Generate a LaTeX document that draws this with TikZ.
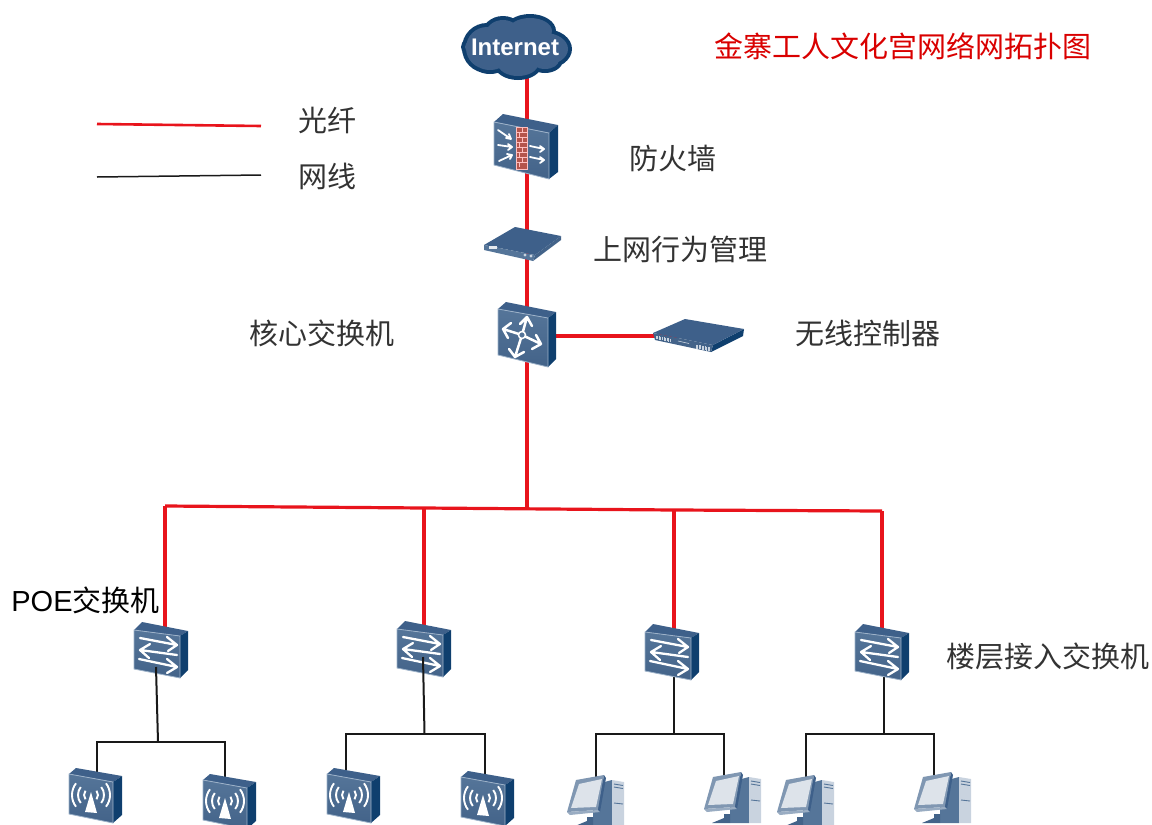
\documentclass[tikz,border=0pt]{standalone}
\usepackage{fontspec}
\setmainfont{Liberation Sans}
\newfontfamily\cjk{Noto Sans CJK SC}
\definecolor{dfront}{HTML}{557599}
\definecolor{dfrontb}{HTML}{436389}
\definecolor{dtop}{HTML}{3E608A}
\definecolor{dside}{HTML}{0F3F6E}
\definecolor{dedge}{HTML}{9DB2C9}
\definecolor{pclight}{HTML}{C9D3DF}
\definecolor{pcscreen}{HTML}{DDE3EA}
\definecolor{wallc}{HTML}{B5554C}
\definecolor{fibre}{HTML}{E8141C}
\tikzset{
  dev/.style={inner sep=0pt,outer sep=0pt,draw=none},
  lab/.style={font=\cjk\fontsize{29}{29}\selectfont,text=black!80,inner sep=0pt},
  fiber/.style={draw=fibre,line width=3.2pt},
  utp/.style={draw=black!90,line width=2pt},
  wa/.style={draw=white,line width=2.3pt,line cap=round,line join=round},
  front/.style={top color=dfront,bottom color=dfrontb,draw=dedge,line width=.8pt},
  topf/.style={fill=dtop},
  sidef/.style={fill=dside},
  swdev/.pic={
    \path[topf] (0,8)--(8,0)--(54,9)--(46,14)--cycle;
    \path[sidef] (46,14)--(54,9)--(54,48)--(46,56)--cycle;
    \path[front] (0,8)--(46,14)--(46,56)--(0,47)--cycle;
    \draw[wa] (6,16)--(43,23) (33,15)--(43,23)--(34,29);
    \draw[wa] (6,28)--(43,33) (16,22)--(6,28)--(15,36);
    \draw[wa] (5,37)--(43,45) (33,37)--(43,45)--(33,51);
  },
  apdev/.pic={
    \path[topf] (0,6)--(7,0)--(53,8)--(44,14)--cycle;
    \path[sidef] (44,14)--(53,8)--(53,47)--(44,55)--cycle;
    \path[front] (0,6)--(44,14)--(44,55)--(0,46)--cycle;
    \fill[white] (22,24)--(16,44)--(28,45)--cycle;
    \foreach \r in {7,13,19}{
      \draw[white,line width=1.9pt] (22,27)++(-38:\r) arc (-38:38:\r);
      \draw[white,line width=1.9pt] (22,27)++(142:\r) arc (142:218:\r);
    }
  },
  fwdev/.pic={
    \path[topf] (0,8)--(9,0)--(64,11)--(55,19)--cycle;
    \path[sidef] (55,19)--(64,11)--(64,58)--(55,65)--cycle;
    \path[front] (0,8)--(55,19)--(55,65)--(0,51)--cycle;
    \draw[fill=wallc,draw=pink,line width=.6pt] (22,13) rectangle (33,55);
    \foreach \yy in {18,23,28,33,38,43,48}{\draw[pink,line width=.5pt] (22,\yy)--(33,\yy);}
    \foreach \yy in {13,23,33,43}{\draw[pink,line width=.5pt] (28,\yy)--(28,\yy+5);}
    \foreach \yy in {18,28,38,48}{\draw[pink,line width=.5pt] (25,\yy)--(25,\yy+5);}
    \draw[wa,line width=1.8pt] (4,16)--(17,25) (12,24)--(17,25)--(15,20);
    \draw[wa,line width=1.8pt] (4,31)--(18,33) (14,30)--(18,33)--(14,36);
    \draw[wa,line width=1.8pt] (5,47)--(18,41) (13,40)--(18,41)--(16,45);
    \draw[wa,line width=1.8pt] (36,32)--(50,35) (46,32)--(50,35)--(46,38);
    \draw[wa,line width=1.8pt] (36,43)--(50,46) (46,43)--(50,46)--(46,49);
  },
  coredev/.pic={
    \path[topf] (0,7)--(8,0)--(58,10)--(50,16)--cycle;
    \path[sidef] (50,16)--(58,10)--(58,57)--(50,65)--cycle;
    \path[front] (0,7)--(50,16)--(50,65)--(0,53)--cycle;
    \draw[wa,line width=2.5pt] (24,33)--(29,15) (22,22)--(29,15)--(34,24);
    \draw[wa,line width=2.5pt] (24,33)--(5,27) (13,21)--(5,27)--(10,36);
    \draw[wa,line width=2.5pt] (24,33)--(43,42) (38,33)--(43,42)--(34,47);
    \draw[wa,line width=2.5pt] (24,33)--(17,55) (11,47)--(17,55)--(26,50);
    \draw[white,line width=1.5pt,fill=dfront] (24,33) circle (3.5);
  },
  bmdev/.pic={
    \fill[dfrontb] (49,34)--(77,13)--(77,9)--(51,28)--cycle;
    \fill[dtop] (0,18)--(31,0)--(77,9)--(51,28)--cycle;
    \fill[dfront] (0,18)--(0,23)--(49,34)--(51,28)--cycle;
    \fill[white!85!dfront] (5,19) rectangle (13,22);
    \fill[pclight] (41,28) circle (1.7) (47,29) circle (1.7);
  },
  wcdev/.pic={
    \fill[dside] (60,26)--(91,10)--(90,17)--(58,33)--cycle;
    \fill[dtop] (0,14)--(32,0)--(91,10)--(60,26)--cycle;
    \fill[dfrontb] (0,14)--(2,21)--(58,33)--(60,26)--cycle;
    \foreach \i in {0,...,9}{\draw[pclight,line width=.8pt] (3+\i*1.6,16.5+\i*.35)--(3+\i*1.6,20+\i*.35);}
    \foreach \i in {0,...,9}{\draw[pclight,line width=.8pt] (43+\i*1.5,25.5+\i*.3)--(43+\i*1.5,29.5+\i*.3);}
    \draw[pclight,line width=.6pt] (25,22)--(36,24.5);
  },
  pcdev/.pic={
    \fill[dfront] (26,10)--(45,5)--(45,51)--(26,51)--cycle;
    \fill[pclight] (45,5)--(57,7)--(57,51)--(45,51)--cycle;
    \draw[dfront,line width=.9pt] (47,9)--(56,10.5) (47,12)--(56,13.5) (47,28)--(56,29);
    \fill[dfrontb] (20,42)--(26,42)--(26,51)--(8,51)--(20,46)--cycle;
    \fill[dfront!75!white] (9,5)--(37,0)--(31,35)--(0,37)--cycle;
    \fill[dtop] (37,0)--(39,3)--(33,37)--(31,35)--cycle;
    \fill[dfront!60!white] (0,37)--(31,35)--(33,37)--(3,40)--cycle;
    \fill[pcscreen] (12,9)--(35,4)--(29,32)--(4,33)--cycle;
  },
}
\begin{document}
\begin{tikzpicture}[x=1pt,y=-1pt]
\useasboundingbox (0,0) rectangle (1152,825);
\clip (0,0) rectangle (1152,825);
% device place-holders
\node[dev,minimum width=111pt,minimum height=66pt] (inet) at (516,47) {};
\node[dev,minimum width=64pt,minimum height=65pt] (fw) at (526,146) {};
\node[dev,minimum width=78pt,minimum height=35pt] (bm) at (523,244) {};
\node[dev,minimum width=59pt,minimum height=65pt] (core) at (527,334) {};
\node[dev,minimum width=91pt,minimum height=34pt] (wc) at (698,336) {};
\node[dev,minimum width=54pt,minimum height=56pt] (sw1) at (161,650) {};
\node[dev,minimum width=54pt,minimum height=56pt] (sw2) at (424,649) {};
\node[dev,minimum width=54pt,minimum height=56pt] (sw3) at (672,652) {};
\node[dev,minimum width=54pt,minimum height=56pt] (sw4) at (882,652) {};
\node[dev,minimum width=54pt,minimum height=55pt] (ap1) at (96,796) {};
\node[dev,minimum width=54pt,minimum height=55pt] (ap2) at (230,802) {};
\node[dev,minimum width=54pt,minimum height=55pt] (ap3) at (354,796) {};
\node[dev,minimum width=54pt,minimum height=55pt] (ap4) at (488,799) {};
\node[dev,minimum width=56pt,minimum height=50pt] (pc1) at (595,800) {};
\node[dev,minimum width=56pt,minimum height=50pt] (pc2) at (732,797) {};
\node[dev,minimum width=56pt,minimum height=50pt] (pc3) at (805,800) {};
\node[dev,minimum width=56pt,minimum height=50pt] (pc4) at (942,797) {};
% legend ends
\coordinate (lr1) at (97,124); \coordinate (lr2) at (261,126);
\coordinate (lb1) at (97,177); \coordinate (lb2) at (261,175);
% junctions
\coordinate (t0) at (165,506); \coordinate (t1) at (424,508);
\coordinate (tc) at (527,508); \coordinate (t2) at (674,510); \coordinate (t3) at (882,511);
\coordinate (b1) at (158,742); \coordinate (b1l) at (97,742); \coordinate (b1r) at (225,742);
\coordinate (b2) at (424.5,734); \coordinate (b2l) at (346,734); \coordinate (b2r) at (485,734);
\coordinate (b3) at (674,734); \coordinate (b3l) at (596,734); \coordinate (b3r) at (724,734);
\coordinate (b4) at (884,734); \coordinate (b4l) at (806,734); \coordinate (b4r) at (934,734);
\coordinate (s1) at (156,667); \coordinate (s2) at (423,657);
% connectors
\draw[fiber,line width=2.6pt] (lr1)--(lr2);
\draw[utp,line width=1.5pt] (lb1)--(lb2);
\draw[fiber] (inet.center -| core.center)--(core.center);
\draw[fiber] (core.center)--(tc);
\draw[fiber] (core.center |- wc.center)--(wc.center);
\draw[fiber] (t0)--(t1)--(t2)--(t3);
\draw[fiber] (t0)--(t0 |- sw1.center);
\draw[fiber] (t1)--(t1 |- sw2.center);
\draw[fiber] (t2)--(t2 |- sw3.center);
\draw[fiber] (t3)--(t3 |- sw4.center);
\draw[utp] (b3)--(b3 |- sw3.center);
\draw[utp] (b4)--(b4 |- sw4.center);
\draw[utp] (b1l |- ap1.center)--(b1l)--(b1r)--(b1r |- ap2.center);
\draw[utp] (b2l |- ap3.center)--(b2l)--(b2r)--(b2r |- ap4.center);
\draw[utp] (b3l |- pc1.center)--(b3l)--(b3r)--(b3r |- pc2.center);
\draw[utp] (b4l |- pc3.center)--(b4l)--(b4r)--(b4r |- pc4.center);
% cloud
\fill[dside] (516,47) ellipse (55 and 21) (487,48) circle (25) (503,36) ellipse (22 and 20)
  (530,31) ellipse (26 and 17) (545,49) ellipse (27 and 20) (490,60) ellipse (20 and 14)
  (518,64) ellipse (24 and 16) (545,60) ellipse (18 and 13);
\fill[dtop] (516,47) ellipse (51 and 17) (487,48) circle (21) (503,36) ellipse (18 and 16)
  (530,31) ellipse (22 and 13) (545,49) ellipse (23 and 16) (490,60) ellipse (16 and 10)
  (518,64) ellipse (20 and 12) (545,60) ellipse (14 and 9);
\node[inner sep=0pt,text=white,font=\bfseries\fontsize{24}{24}\selectfont] (inettext) at (515,47) {Internet};
% devices
\pic at (494,114) {fwdev};
\pic at (484,227) {bmdev};
\pic at (498,302) {coredev};
\pic at (653,319) {wcdev};
\pic at (134,622) {swdev};
\pic at (397,621) {swdev};
\pic at (645,624) {swdev};
\pic at (855,624) {swdev};
\pic at (69,768) {apdev};
\pic at (203,774) {apdev};
\pic at (327,768) {apdev};
\pic at (461,771) {apdev};
\pic at (567,775) {pcdev};
\pic at (704,772) {pcdev};
\pic at (777,775) {pcdev};
\pic at (914,772) {pcdev};
% cables that run over the switch faces
\draw[utp] (s1)--(b1);
\draw[utp] (s2)--(b2);
% labels
\node[lab,text=red!85!black] (title) at (903,46) {金寨工人文化宫网络网拓扑图};
\node[lab] (l1) at (327,120) {光纤};
\node[lab] (l2) at (327,176) {网线};
\node[lab] (n1) at (673,158) {防火墙};
\node[lab] (n2) at (680,249) {上网行为管理};
\node[lab] (n3) at (322,333) {核心交换机};
\node[lab] (n4) at (868,333) {无线控制器};
\node[lab,text=black] (n5) at (85.5,600) {\fontsize{29}{29}\selectfont\rmfamily POE\cjk 交换机};
\node[lab] (n6) at (1048,656) {楼层接入交换机};
\end{tikzpicture}
\end{document}
